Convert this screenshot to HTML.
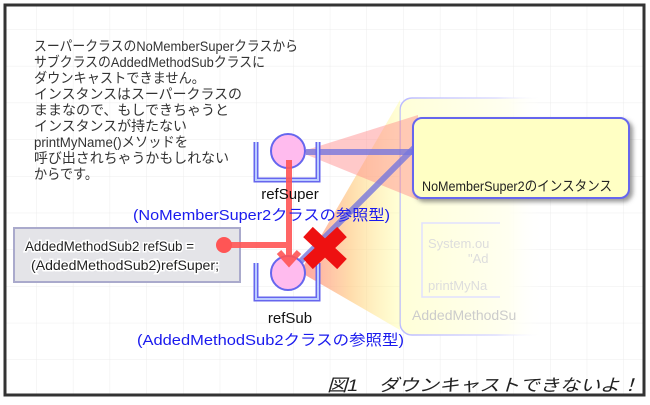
<!DOCTYPE html>
<html><head><meta charset="utf-8"><style>
body{margin:0;background:#fff}
svg text{font-family:"Liberation Sans","Noto Sans CJK JP",sans-serif}
</style></head><body>
<svg width="650" height="400" viewBox="0 0 650 400" xmlns="http://www.w3.org/2000/svg">
<defs>
<pattern id="g" width="36.7" height="36.7" patternUnits="userSpaceOnUse" x="0" y="-7">
<path d="M36.7 0V36.7M0 36.7H36.7" stroke="#ececec" stroke-width="1" fill="none"/>
</pattern>
<linearGradient id="pale" x1="0" x2="1" y1="0" y2="0">
<stop offset="0" stop-color="#ffffd8"/><stop offset="0.45" stop-color="#fffff0"/><stop offset="0.6" stop-color="#fff" stop-opacity="0"/>
</linearGradient>
<linearGradient id="palestroke" x1="0" x2="1" y1="0" y2="0">
<stop offset="0" stop-color="#bbbbff"/><stop offset="0.4" stop-color="#ddddff"/><stop offset="0.6" stop-color="#fff" stop-opacity="0"/>
</linearGradient>
<linearGradient id="cone2" x1="0" x2="1">
<stop offset="0" stop-color="#ff8888" stop-opacity="0.8"/><stop offset="0.5" stop-color="#ffcc88" stop-opacity="0.7"/><stop offset="1" stop-color="#ffff99" stop-opacity="0.4"/>
</linearGradient>
<filter id="sh"><feDropShadow dx="3" dy="3" stdDeviation="2" flood-color="#555" flood-opacity="0.6"/></filter>
</defs>
<rect x="0" y="0" width="650" height="400" fill="#fff"/>
<rect x="5" y="5" width="639" height="390" fill="url(#g)" stroke="#333" stroke-width="3"/>

<g font-size="14" fill="#333" lengthAdjust="spacingAndGlyphs">
<text x="34" y="51" textLength="264" lengthAdjust="spacingAndGlyphs">スーパークラスのNoMemberSuperクラスから</text>
<text x="34" y="67" textLength="231" lengthAdjust="spacingAndGlyphs">サブクラスのAddedMethodSubクラスに</text>
<text x="34" y="83" textLength="171" lengthAdjust="spacingAndGlyphs">ダウンキャストできません。</text>
<text x="34" y="99" textLength="208" lengthAdjust="spacingAndGlyphs">インスタンスはスーパークラスの</text>
<text x="34" y="115" textLength="195" lengthAdjust="spacingAndGlyphs">ままなので、もしできちゃうと</text>
<text x="34" y="131" textLength="153" lengthAdjust="spacingAndGlyphs">インスタンスが持たない</text>
<text x="34" y="147" textLength="154" lengthAdjust="spacingAndGlyphs">printMyName()メソッドを</text>
<text x="34" y="163" textLength="195" lengthAdjust="spacingAndGlyphs">呼び出されちゃうかもしれない</text>
<text x="34" y="179" textLength="64" lengthAdjust="spacingAndGlyphs">からです。</text>
</g>

<!-- pale instance -->
<rect x="400" y="98" width="240" height="237" rx="12" fill="url(#pale)" stroke="url(#palestroke)" stroke-width="1.5"/>
<path d="M500,223H422V297H500" fill="none" stroke="#e0e0ff" stroke-width="1.5"/>
<text x="428" y="248" font-size="13" fill="#ddd">System.ou</text>
<text x="468" y="263" font-size="13" fill="#ddd">"Ad</text>
<text x="428" y="290" font-size="13" fill="#ddd">printMyNa</text>
<text x="412" y="320" font-size="14" fill="#ccc">AddedMethodSu</text>

<!-- cones -->
<polygon points="300,272 400,100 400,330" fill="url(#cone2)"/>
<polygon points="300,152 418,115 418,200" fill="#ff8888" opacity="0.45"/>

<!-- blue lines -->
<line x1="306" y1="152" x2="414" y2="152" stroke="#7777dd" stroke-width="6" opacity="0.8"/>
<line x1="296" y1="266" x2="414" y2="148" stroke="#7777dd" stroke-width="6" opacity="0.8"/>

<!-- yellow instance box -->
<rect x="413" y="118" width="216" height="80" rx="9" fill="#ffffc4" stroke="#6666ee" stroke-width="2" filter="url(#sh)"/>
<text x="422" y="191" font-size="14" fill="#222" textLength="190" lengthAdjust="spacingAndGlyphs">NoMemberSuper2のインスタンス</text>

<!-- cups -->
<path d="M256,142V180H318V142" fill="none" stroke="#6666ee" stroke-width="5"/>
<path d="M256,142V180H318V142" fill="none" stroke="#bbccff" stroke-width="2"/>
<circle cx="288" cy="151" r="17" fill="#ffbbee" stroke="#6666ee" stroke-width="2"/>
<path d="M256,263V299H318V263" fill="none" stroke="#6666ee" stroke-width="5"/>
<path d="M256,263V299H318V263" fill="none" stroke="#bbccff" stroke-width="2"/>
<circle cx="288" cy="273" r="17" fill="#ffbbee" stroke="#6666ee" stroke-width="2"/>

<!-- code box -->
<rect x="14" y="228" width="226" height="54" fill="#e4e4e8" stroke="#aaaacc" stroke-width="2"/>
<g font-size="14" fill="#222" stroke="#fff" stroke-width="3" paint-order="stroke">
<text x="25" y="251" textLength="169" lengthAdjust="spacingAndGlyphs">AddedMethodSub2 refSub =</text>
<text x="31" y="270" textLength="188" lengthAdjust="spacingAndGlyphs">(AddedMethodSub2)refSuper;</text>
</g>

<!-- red lines -->
<g stroke="#ff5555" stroke-width="6" opacity="0.9" fill="none">
<line x1="224" y1="245" x2="289" y2="245"/>
<line x1="289" y1="160" x2="289" y2="262"/>
<path d="M279,252L289,263L299,252"/>
</g>
<circle cx="224" cy="245" r="8" fill="#ff5555"/>
<!-- X -->
<g stroke="#ee1111" stroke-width="14">
<line x1="308" y1="232" x2="342" y2="264"/>
<line x1="342" y1="232" x2="308" y2="264"/>
</g>

<text x="290" y="199" font-size="15" fill="#111" text-anchor="middle">refSuper</text>
<text x="133" y="220" font-size="15" fill="#1a1aee" textLength="257" lengthAdjust="spacingAndGlyphs">(NoMemberSuper2クラスの参照型)</text>
<text x="290" y="323" font-size="15" fill="#111" text-anchor="middle">refSub</text>
<text x="137" y="345" font-size="15" fill="#1a1aee" textLength="267" lengthAdjust="spacingAndGlyphs">(AddedMethodSub2クラスの参照型)</text>

<text x="327" y="391" font-size="17" fill="#222" font-style="italic" textLength="313" lengthAdjust="spacingAndGlyphs">図1　ダウンキャストできないよ！</text>
</svg>
</body></html>
